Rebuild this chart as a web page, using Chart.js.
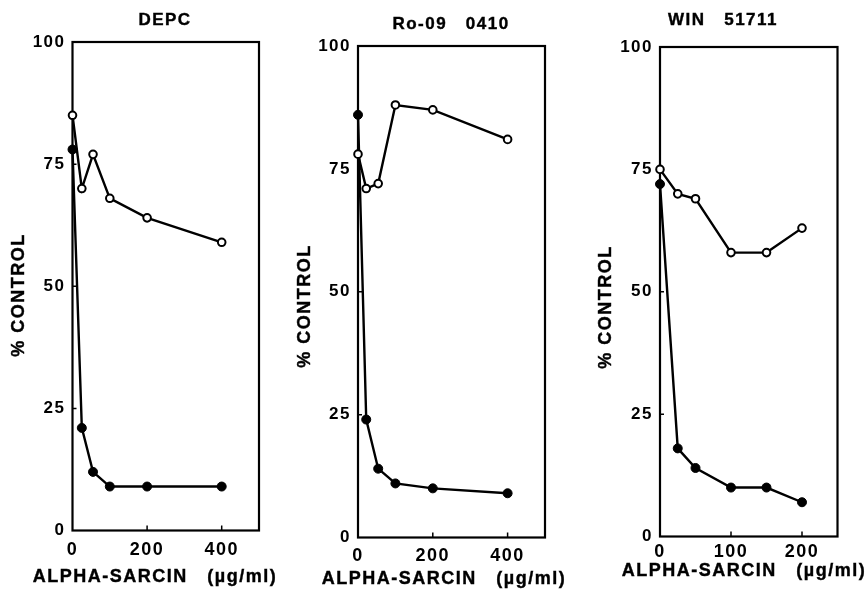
<!DOCTYPE html>
<html>
<head>
<meta charset="utf-8">
<script src="https://cdn.jsdelivr.net/npm/chart.js@4/dist/chart.umd.min.js"></script>
<style>
  html, body { margin: 0; padding: 0; background: #fff; }
  #wrap { position: relative; width: 867px; height: 593px; }
  #wrap canvas { position: absolute; left: 0; top: 0; }
</style>
</head>
<body>
<div id="wrap">
  <canvas id="depc" width="867" height="593"></canvas>
  <canvas id="ro09" width="867" height="593"></canvas>
  <canvas id="win" width="867" height="593"></canvas>
</div>
<script>
// alpha-sarcin dose (ug/ml) and % of control, per panel
const depcDose = [0, 25, 55, 100, 200, 400];
const depcOpen = [85, 70, 77, 68, 64, 59];
const depcFilled = [78, 21, 12, 9, 9, 9];

const roDose = [0, 22, 54, 100, 200, 400];
const roOpen = [78, 71, 72, 88, 87, 81];
const roFilled = [86, 24, 14, 11, 10, 9];

const winDose = [0, 25, 50, 100, 150, 200];
const winOpen = [75, 70, 69, 58, 58, 63];
const winFilled = [72, 18, 14, 10, 10, 7];

const yTicks = [0, 25, 50, 75, 100];
const xTicksWide = [0, 200, 400];
const xTicksNarrow = [0, 100, 200];

const FONT = '"Liberation Sans", Arial, Helvetica, sans-serif';
const W = 867, H = 593;
const Y_AXIS_W = 40, X_AXIS_H = 40;

const toPoints = (xs, ys) => xs.map((x, i) => ({ x: x, y: ys[i] }));

// draws frame, inward ticks and the panel texts
const panelDecor = {
    id: 'panelDecor',
    beforeDraw: function (chart) {
        chart.ctx.letterSpacing = '1.5px';
    },
    beforeDatasetsDraw: function (chart) {
        const ctx = chart.ctx;
        const a = chart.chartArea;
        const xs = chart.scales.x, ys = chart.scales.y;
        ctx.save();
        ctx.strokeStyle = '#000';
        ctx.lineWidth = 2.2;
        ctx.strokeRect(a.left, a.top, a.right - a.left, a.bottom - a.top);
        ctx.lineWidth = 1.5;
        ctx.beginPath();
        xs.ticks.forEach(t => {
            if (t.value === 0) return;
            const px = xs.getPixelForValue(t.value);
            ctx.moveTo(px, a.bottom);
            ctx.lineTo(px, a.bottom - 5);
        });
        ys.ticks.forEach(t => {
            if (t.value === 0 || t.value === 100) return;
            const py = ys.getPixelForValue(t.value);
            ctx.moveTo(a.left, py);
            ctx.lineTo(a.left + 4, py);
        });
        ctx.stroke();
        ctx.restore();
    },
    afterDraw: function (chart, args, opts) {
        const ctx = chart.ctx;
        ctx.save();
        ctx.letterSpacing = '1.5px';
        ctx.fillStyle = '#000';
        ctx.strokeStyle = '#000';
        ctx.lineWidth = 0.4;
        ctx.textAlign = 'center';
        ctx.textBaseline = 'middle';
        ctx.font = 'bold 17px ' + FONT;
        ctx.fillText(opts.title, opts.titlePos[0], opts.titlePos[1]);
        ctx.strokeText(opts.title, opts.titlePos[0], opts.titlePos[1]);
        ctx.font = 'bold 18px ' + FONT;
        ctx.fillText(opts.xLabel, opts.xLabelPos[0], opts.xLabelPos[1]);
        ctx.strokeText(opts.xLabel, opts.xLabelPos[0], opts.xLabelPos[1]);
        ctx.translate(opts.yLabelPos[0], opts.yLabelPos[1]);
        ctx.rotate(-Math.PI / 2);
        ctx.fillText(opts.yLabel, 0, 0);
        ctx.strokeText(opts.yLabel, 0, 0);
        ctx.restore();
    }
};

function makePanel(id, cfg) {
    const area = cfg.area;
    return new Chart(document.getElementById(id), {
        type: 'line',
        data: {
            datasets: [{
                data: toPoints(cfg.dose, cfg.open),
                borderColor: '#000',
                borderWidth: 2.4,
                backgroundColor: '#fff',
                pointBackgroundColor: '#fff',
                pointBorderColor: '#000',
                pointBorderWidth: 2,
                pointRadius: 3.8,
                tension: 0,
                clip: false,
            }, {
                data: toPoints(cfg.dose, cfg.filled),
                borderColor: '#000',
                borderWidth: 2.4,
                backgroundColor: '#000',
                pointBackgroundColor: '#000',
                pointBorderColor: '#000',
                pointBorderWidth: 1,
                pointRadius: 4.5,
                tension: 0,
                clip: false,
            }]
        },
        options: {
            responsive: false,
            animation: false,
            events: [],
            layout: {
                padding: {
                    left: area.left - Y_AXIS_W,
                    right: W - area.right,
                    top: area.top,
                    bottom: H - X_AXIS_H - area.bottom,
                }
            },
            plugins: {
                legend: { display: false },
                tooltip: { enabled: false },
                panelDecor: {
                    title: cfg.title,
                    titlePos: cfg.titlePos,
                    xLabel: 'ALPHA-SARCIN   (\u00b5g/ml)',
                    xLabelPos: cfg.xLabelPos,
                    yLabel: '% CONTROL',
                    yLabelPos: cfg.yLabelPos,
                }
            },
            scales: {
                x: {
                    type: 'linear',
                    min: 0,
                    max: cfg.xMax,
                    afterBuildTicks: s => { s.ticks = cfg.xTicks.map(v => ({ value: v })); },
                    afterFit: s => { s.height = X_AXIS_H; },
                    grid: { display: false, drawTicks: false },
                    border: { display: false },
                    ticks: {
                        color: '#000',
                        padding: cfg.xTickPad,
                        maxRotation: 0,
                        font: { family: FONT, size: 18, weight: 'bold' },
                    }
                },
                y: {
                    type: 'linear',
                    min: 0,
                    max: 100,
                    afterBuildTicks: s => { s.ticks = yTicks.map(v => ({ value: v })); },
                    afterFit: s => { s.width = Y_AXIS_W; },
                    grid: { display: false, drawTicks: false },
                    border: { display: false },
                    ticks: {
                        color: '#000',
                        padding: 7,
                        font: { family: FONT, size: 17, weight: 'bold' },
                    }
                }
            }
        },
        plugins: [panelDecor]
    });
}

makePanel('depc', {
    title: 'DEPC',
    dose: depcDose, open: depcOpen, filled: depcFilled,
    xMax: 500, xTicks: xTicksWide, xTickPad: 9,
    area: { left: 72.5, right: 259, top: 42, bottom: 530.5 },
    titlePos: [165, 20], xLabelPos: [155, 577], yLabelPos: [19, 295],
});
makePanel('ro09', {
    title: 'Ro-09   0410',
    dose: roDose, open: roOpen, filled: roFilled,
    xMax: 500, xTicks: xTicksWide, xTickPad: 8,
    area: { left: 358, right: 545, top: 46, bottom: 537.5 },
    titlePos: [451, 24], xLabelPos: [444, 579], yLabelPos: [305, 306],
});
makePanel('win', {
    title: 'WIN   51711',
    dose: winDose, open: winOpen, filled: winFilled,
    xMax: 250, xTicks: xTicksNarrow, xTickPad: 5,
    area: { left: 660, right: 837.5, top: 47, bottom: 536.5 },
    titlePos: [723, 20], xLabelPos: [744, 571], yLabelPos: [606, 307],
});
</script>
</body>
</html>
